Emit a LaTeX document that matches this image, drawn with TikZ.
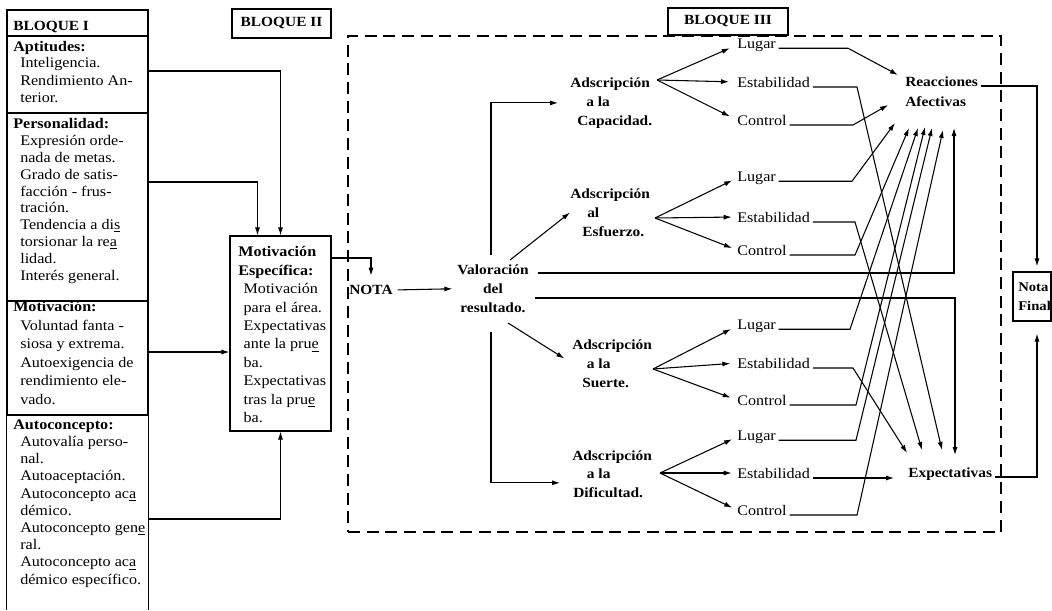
\documentclass[tikz,border=0pt]{standalone}
\usepackage{fontspec}
\setmainfont[FakeStretch=1.1]{Liberation Serif}
\usetikzlibrary{arrows.meta}
\newcommand\hyu[1]{\underline{#1}}
\begin{document}
\begin{tikzpicture}[x=0.75pt,y=-0.75pt,
  con/.style={line width=0.8pt},
  arr/.style={con,-{Latex[length=6pt,width=3.8pt]}},
  boxf/.style={draw,line width=0.9pt,inner sep=0pt},
  txt/.style={inner sep=0pt,align=left},
  hb/.style={font=\bfseries\fontsize{10.5}{13}\selectfont},
  lab/.style={inner sep=0pt,anchor=west,font=\fontsize{11}{13}\selectfont},
  dsh/.style={draw,line width=1pt,dash pattern=on 9pt off 5pt,inner sep=0pt}]
\useasboundingbox (0,0) rectangle (1052,610);

% ---------------- BLOQUE I ----------------
\node[boxf,minimum width=105.75pt,minimum height=19.5pt] (hdr) at (77.5,23) {};
\node[boxf,minimum width=105.75pt,minimum height=57.75pt] (apt) at (77.5,74.5) {};
\node[boxf,minimum width=105.75pt,minimum height=141pt] (per) at (77.5,207) {};
\node[boxf,minimum width=105.75pt,minimum height=85.5pt] (mot) at (77.5,358) {};
\node[inner sep=0pt,minimum width=105.75pt,minimum height=146.25pt] (aut) at (77.5,512.5) {};
\draw[line width=0.9pt] (aut.south west) -- (aut.north west) -- (aut.north east) -- (aut.south east);

% multi-line nodes: base anchor = baseline of the last line
\node[txt,hb,anchor=base west] (t0) at (13,31) {BLOQUE I};
\node[txt,anchor=base west,font=\fontsize{11}{12.75}\selectfont] (t1) at (13,102)
 {\textbf{Aptitudes:}\\\hspace*{5.25pt}Inteligencia.\\\hspace*{5.25pt}Rendimiento An-\\\hspace*{5.25pt}terior.};
\node[txt,anchor=base west,font=\fontsize{11}{12.6}\selectfont] (t2) at (13,280)
 {\textbf{Personalidad:}\\\hspace*{5.25pt}Expresión orde-\\\hspace*{5.25pt}nada de metas.\\\hspace*{5.25pt}Grado de satis-\\\hspace*{5.25pt}facción - frus-\\\hspace*{5.25pt}tración.\\\hspace*{5.25pt}Tendencia a di\hyu{s}\\\hspace*{5.25pt}torsionar la re\hyu{a}\\\hspace*{5.25pt}lidad.\\\hspace*{5.25pt}Interés general.};
\node[txt,anchor=base west,font=\fontsize{11}{13.9}\selectfont] (t3) at (13,404.5)
 {\textbf{Motivación:}\\\hspace*{5.25pt}Voluntad fanta -\\\hspace*{5.25pt}siosa y extrema.\\\hspace*{5.25pt}Autoexigencia de\\\hspace*{5.25pt}rendimiento ele-\\\hspace*{5.25pt}vado.};
\node[txt,anchor=base west,font=\fontsize{11}{12.9}\selectfont] (t4) at (13,584)
 {\textbf{Autoconcepto:}\\\hspace*{5.25pt}Autovalía perso-\\\hspace*{5.25pt}nal.\\\hspace*{5.25pt}Autoaceptación.\\\hspace*{5.25pt}Autoconcepto ac\hyu{a}\\\hspace*{5.25pt}démico.\\\hspace*{5.25pt}Autoconcepto gen\hyu{e}\\\hspace*{5.25pt}ral.\\\hspace*{5.25pt}Autoconcepto ac\hyu{a}\\\hspace*{5.25pt}démico específico.};

% ---------------- BLOQUE II ----------------
\node[boxf,hb,minimum width=74.25pt,minimum height=21.75pt] (b2) at (281.5,23.5) {BLOQUE II};
\node[boxf,minimum width=75.75pt,minimum height=146.25pt] (me) at (280.5,333.5) {};
\node[txt,anchor=base west,font=\fontsize{11}{13.8}\selectfont] (met) at (238,422.5)
 {\textbf{Motivación}\\\textbf{Específica:}\\\hspace*{4pt}Motivación\\\hspace*{4pt}para el área.\\\hspace*{4pt}Expectativas\\\hspace*{4pt}ante la pru\hyu{e}\\\hspace*{4pt}ba.\\\hspace*{4pt}Expectativas\\\hspace*{4pt}tras la pru\hyu{e}\\\hspace*{4pt}ba.};

\draw[arr] (apt.east |- 0,71) -| (me.north);
\draw[arr] (per.east |- 0,182) -| ([xshift=-17.25pt]me.north);
\draw[arr] (mot.east |- 0,352) -- (me.west |- 0,352);
\draw[arr] (aut.east |- 0,519) -| (me.south);

% ---------------- BLOQUE III ----------------
\node[dsh,minimum width=489.75pt,minimum height=372pt] (b3) at (674.5,284) {};
\node[boxf,hb,fill=white,minimum width=90pt,minimum height=20.25pt] (b3l) at (728,21.5) {BLOQUE III};

\node[inner sep=0pt,hb] (nota) at (371,290) {NOTA};
\node[inner sep=0pt,align=center,anchor=base,font=\bfseries\fontsize{10.5}{13.9}\selectfont] (val) at (493,312) {Valoración\\del\\resultado.};

\draw[arr,shorten >=7pt] (me.east |- 0,258) -| (nota.north);
\draw[arr,shorten <=3.5pt,shorten >=3.5pt] (nota.east) -- (val.west);

\node[txt,anchor=base west,font=\bfseries\fontsize{10.5}{14.4}\selectfont] (cap) at (570,125.5)
 {Adscripción\\\hspace*{12pt}a la\\\hspace*{5.25pt}Capacidad.};
\node[txt,anchor=base west,font=\bfseries\fontsize{10.5}{14.4}\selectfont] (esf) at (570,236.5)
 {Adscripción\\\hspace*{12.75pt}al\\\hspace*{9pt}Esfuerzo.};
\node[txt,anchor=base west,font=\bfseries\fontsize{10.5}{14.2}\selectfont] (sue) at (572,387)
 {Adscripción\\\hspace*{11pt}a la\\\hspace*{7.5pt}Suerte.};
\node[txt,anchor=base west,font=\bfseries\fontsize{10.5}{13.8}\selectfont] (dif) at (572,497)
 {Adscripción\\\hspace*{11pt}a la\\\hspace*{0.75pt}Dificultad.};

\coordinate (vu) at (491,255);
\coordinate (vd) at (491,332);
\coordinate (ve) at (510,260);
\coordinate (vs) at (508,323);
\draw[arr,shorten >=9pt] (vu) |- (cap.west);
\draw[arr,shorten >=9pt] (vd) |- ([yshift=-6.75pt]dif.west);
\draw[arr] (ve) -- (esf.west);
\draw[arr,shorten >=6.75pt] (vs) -- (sue.west);

% labels
\node[lab] (l11) at (737,45) {Lugar};
\node[lab] (l12) at (737,82) {Estabilidad};
\node[lab] (l13) at (737,120) {Control};
\node[lab] (l21) at (737,178) {Lugar};
\node[lab] (l22) at (737,217) {Estabilidad};
\node[lab] (l23) at (737,250) {Control};
\node[lab] (l31) at (737,326) {Lugar};
\node[lab] (l32) at (737,363) {Estabilidad};
\node[lab] (l33) at (737,400) {Control};
\node[lab] (l41) at (737,437) {Lugar};
\node[lab] (l42) at (737,473) {Estabilidad};
\node[lab] (l43) at (737,510) {Control};

\coordinate (oc) at (657,80);
\coordinate (oe) at (655,218);
\coordinate (os) at (653,369);
\coordinate (od) at (660,473);
\foreach \t in {l11,l12,l13} \draw[arr,shorten >=6pt] (oc) -- (\t.west);
\foreach \t in {l21,l22,l23} \draw[arr,shorten >=4pt] (oe) -- (\t.west);
\foreach \t in {l31,l32,l33} \draw[arr,shorten >=5pt] (os) -- (\t.west);
\foreach \t in {l41,l42,l43} \draw[arr,shorten >=4pt] (od) -- (\t.west);

\node[inner sep=0pt,hb,anchor=base west] (reac) at (905,86) {Reacciones};
\node[inner sep=0pt,hb,anchor=base west] (afec) at (905,106) {Afectivas};
\node[inner sep=0pt,hb,anchor=base west] (exp) at (908,477) {Expectativas};

\node[boxf,minimum width=28.5pt,minimum height=36.75pt] (nf) at (1032,296.5) {};
\node[txt,anchor=base west,font=\bfseries\fontsize{10}{14}\selectfont] (nft) at (1018,310.5) {Nota\\Final};

% tips
\coordinate (r1) at (898,75);
\coordinate (r2) at (888,105);
\coordinate (r3) at (895,123);
\coordinate (r4) at (909,128);
\coordinate (r5) at (918,128);
\coordinate (r6) at (925,127);
\coordinate (r7) at (932,128);
\coordinate (r8) at (943,130);
\coordinate (r9) at (954,128);
\coordinate (e1) at (907,453);
\coordinate (e2) at (922,450);
\coordinate (e3) at (942,450);
\coordinate (e4) at (955,455);

\draw[arr] ([xshift=2pt]l11.base east) -- (l11.base east -| 848,0) -- (r1);
\draw[arr] ([xshift=2pt]l12.base east) -- (l12.base east -| 857,0) -- (e3);
\draw[arr] ([xshift=2pt]l13.base east) -- (l13.base east -| 853,0) -- (r2);
\draw[arr] ([xshift=2pt]l21.base east) -- (l21.base east -| 852,0) -- (r3);
\draw[arr] ([xshift=2pt]l22.base east) -- (l22.base east -| 855,0) -- (e2);
\draw[arr] ([xshift=2pt]l23.base east) -- (l23.base east -| 855,0) -- (r4);
\draw[arr] ([xshift=2pt]l31.base east) -- (l31.base east -| 850,0) -- (r5);
\draw[arr] ([xshift=2pt]l32.base east) -- (l32.base east -| 853,0) -- (e1);
\draw[arr] ([xshift=2pt]l33.base east) -- (l33.base east -| 856,0) -- (r6);
\draw[arr] ([xshift=2pt]l41.base east) -- (l41.base east -| 856,0) -- (r7);
\draw[arr,shorten >=10.5pt] ([xshift=2pt]l42.base east) -- (l42.base east -| exp.west);
\draw[arr] ([xshift=2pt]l43.base east) -- (l43.base east -| 857,0) -- (r8);

\coordinate (va) at (538,273);
\coordinate (vb) at (535,298);
\draw[arr] (va) -| (r9);
\draw[arr] (vb) -| (e4);

\draw[arr,shorten >=3.75pt] ([xshift=2pt]reac.base east) -| ([xshift=3.75pt]nf.north);
\draw[arr,shorten >=9pt] ([xshift=2pt]exp.base east) -| ([xshift=3.75pt]nf.south);
\end{tikzpicture}
\end{document}
